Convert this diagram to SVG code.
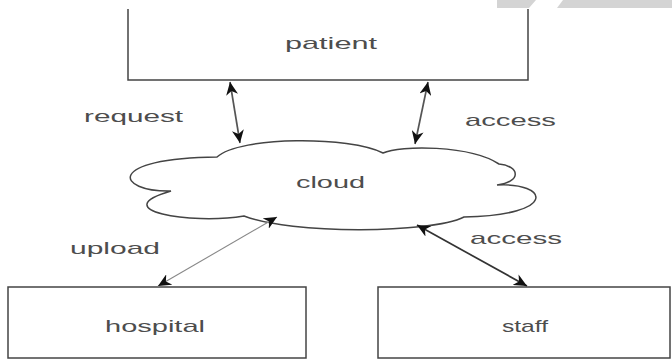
<svg xmlns="http://www.w3.org/2000/svg" width="672" height="360" viewBox="0 0 672 360">
<defs>
<style>
.box{fill:#fff;stroke:#444;stroke-width:1.5}
.lbl{font-family:"Liberation Sans",Arial,sans-serif;font-size:17px;fill:#4d4d4d}
.c{fill:none;stroke:#555;stroke-width:1.7}
.thin{stroke:#888;stroke-width:1.1}
.dark{stroke:#333;stroke-width:1.7}
</style>
<marker id="ah" viewBox="0 0 10 10" refX="10" refY="5" markerWidth="13" markerHeight="12" markerUnits="userSpaceOnUse" orient="auto-start-reverse" preserveAspectRatio="none">
<path d="M0,0 L10,5 L0,10 L3,5 z" fill="#111"/>
</marker>
</defs>
<rect width="672" height="360" fill="#fff"/>
<g id="header">
<polygon points="497,0 536,0 529,8 497,8" fill="#d4d4d4"/>
<polygon points="563,0 672,0 672,8 557,8" fill="#d4d4d4"/>
</g>
<g id="patient">
<path class="box" d="M128,9 V80 H528 V9"/>
<text class="lbl" x="285" y="49" textLength="92" lengthAdjust="spacingAndGlyphs">patient</text>
</g>
<g id="cloud">
<path class="box" d="M217,157 C240,136 350,136 383,153 C400,145 470,145 499,164 C520,166 522,182 497,185 C548,182 560,215 464,217 C430,234 290,234 244,216 C190,225 105,210 171,191 C115,192 105,158 217,157 Z"/>
<text class="lbl" x="296" y="188" textLength="69" lengthAdjust="spacingAndGlyphs">cloud</text>
</g>
<g id="hospital">
<rect class="box" x="8" y="287" width="298" height="71"/>
<text class="lbl" x="105" y="332" textLength="100" lengthAdjust="spacingAndGlyphs">hospital</text>
</g>
<g id="staff">
<rect class="box" x="378" y="287" width="292" height="71"/>
<text class="lbl" x="502" y="332" textLength="46" lengthAdjust="spacingAndGlyphs">staff</text>
</g>
<g id="connectors">
<line class="c" x1="230" y1="82" x2="240" y2="143" marker-start="url(#ah)" marker-end="url(#ah)"/>
<line class="c" x1="428" y1="82" x2="415" y2="144" marker-start="url(#ah)" marker-end="url(#ah)"/>
<line class="c thin" x1="277" y1="217" x2="158" y2="286" marker-start="url(#ah)" marker-end="url(#ah)"/>
<line class="c dark" x1="417" y1="225" x2="527" y2="286" marker-start="url(#ah)" marker-end="url(#ah)"/>
<text class="lbl" x="84" y="122" textLength="99" lengthAdjust="spacingAndGlyphs">request</text>
<text class="lbl" x="465" y="126" textLength="91" lengthAdjust="spacingAndGlyphs">access</text>
<text class="lbl" x="70" y="254" textLength="90" lengthAdjust="spacingAndGlyphs">upload</text>
<text class="lbl" x="470" y="244" textLength="92" lengthAdjust="spacingAndGlyphs">access</text>
</g>
</svg>
